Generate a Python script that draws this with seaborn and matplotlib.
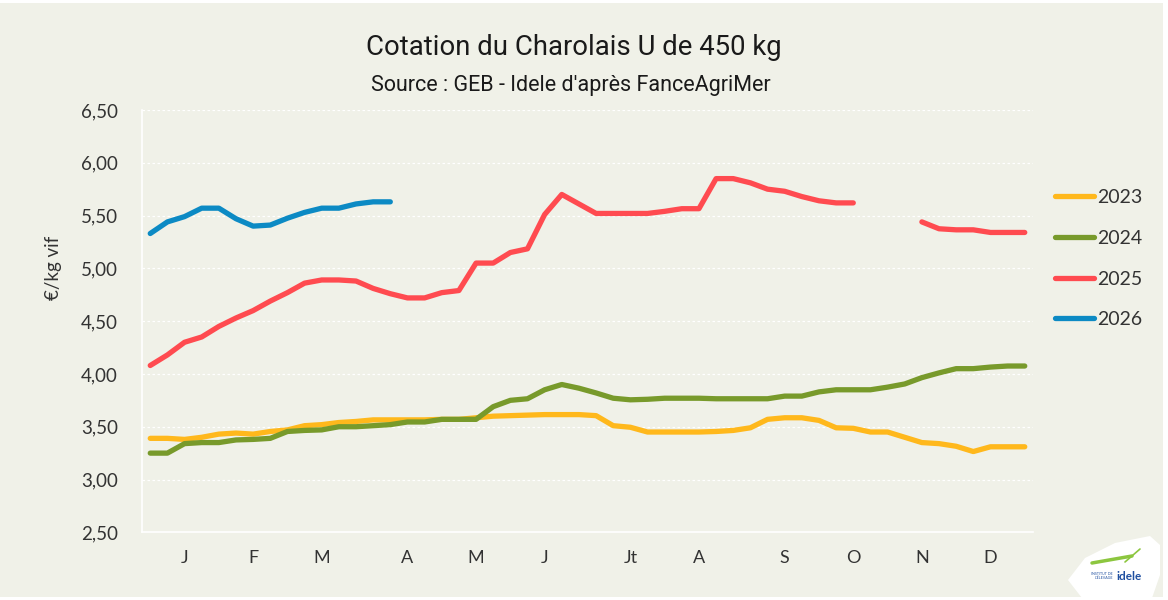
import numpy as np
import pandas as pd
import matplotlib.pyplot as plt
import matplotlib.patches as mpatches
import seaborn as sns

# weekly quotations, €/kg vif (week 0..51)
weeks = list(range(52))
p2023 = [3.39, 3.39, 3.38, 3.40, 3.43, 3.44, 3.43, 3.455, 3.47, 3.51,
         3.52, 3.54, 3.55, 3.565, 3.565, 3.565, 3.565, 3.57, 3.57, 3.585,
         3.60, 3.605, 3.61, 3.615, 3.615, 3.615, 3.605, 3.51, 3.495, 3.45,
         3.45, 3.45, 3.45, 3.455, 3.465, 3.49, 3.57, 3.585, 3.585, 3.56,
         3.49, 3.485, 3.45, 3.45, 3.40, 3.35, 3.34, 3.315, 3.265, 3.31,
         3.31, 3.31]
p2024 = [3.25, 3.25, 3.34, 3.35, 3.35, 3.375, 3.38, 3.39, 3.455, 3.465,
         3.47, 3.50, 3.50, 3.51, 3.52, 3.545, 3.545, 3.57, 3.57, 3.57,
         3.69, 3.75, 3.765, 3.85, 3.90, 3.865, 3.82, 3.77, 3.755, 3.76,
         3.77, 3.77, 3.77, 3.765, 3.765, 3.765, 3.765, 3.79, 3.79, 3.83,
         3.85, 3.85, 3.85, 3.875, 3.905, 3.965, 4.01, 4.05, 4.05, 4.065,
         4.075, 4.075]
p2025 = [4.08, 4.18, 4.30, 4.35, 4.45, 4.53, 4.60, 4.69, 4.77, 4.86,
         4.89, 4.89, 4.88, 4.81, 4.76, 4.72, 4.72, 4.77, 4.79, 5.05,
         5.05, 5.15, 5.185, 5.51, 5.70, 5.61, 5.52, 5.52, 5.52, 5.52,
         5.54, 5.565, 5.565, 5.85, 5.85, 5.81, 5.75, 5.73, 5.68, 5.64,
         5.62, 5.62, np.nan, np.nan, np.nan, 5.44, 5.375, 5.365, 5.365, 5.34,
         5.34, 5.34]
p2026 = [5.33, 5.44, 5.49, 5.57, 5.57, 5.47, 5.40, 5.41, 5.475, 5.53,
         5.57, 5.57, 5.61, 5.63, 5.63]

years = ['2023', '2024', '2025', '2026']
colors = ['#FFB81C', '#789A2B', '#FF4B50', '#0C8AC4']
month_pos = [2, 6, 10, 15, 19, 23, 28, 32, 37, 41, 45, 49]
month_labels = ['J', 'F', 'M', 'A', 'M', 'J', 'Jt', 'A', 'S', 'O', 'N', 'D']
y_ticks = [2.5, 3.0, 3.5, 4.0, 4.5, 5.0, 5.5, 6.0, 6.5]

bg = '#F0F1E8'
txt = '#333333'

# long table, with a segment id so gaps stay gaps
rows = []
for year, vals in zip(years, [p2023, p2024, p2025, p2026]):
    seg = 0
    for w, v in zip(weeks, vals):
        if np.isnan(v):
            seg += 1
            continue
        rows.append({'week': w, 'prix': v, 'annee': year, 'seg': f'{year}-{seg}'})
df = pd.DataFrame(rows)

sns.set_style('white')
plt.rcParams['font.family'] = ['Lato', 'DejaVu Sans']

fig = plt.figure(figsize=(11.68, 6), dpi=100, facecolor='white')
fig.patches.append(mpatches.Rectangle((0, 0.005), 0.9955, 0.99, transform=fig.transFigure,
                                      facecolor=bg, edgecolor='none', zorder=-10))
ax = fig.add_axes([0.1213, 0.1128, 0.7634, 0.7039])
ax.set_facecolor(bg)

sns.lineplot(data=df, x='week', y='prix', hue='annee', units='seg', estimator=None,
             palette=dict(zip(years, colors)), linewidth=3.8, ax=ax, sort=True)
for ln in ax.get_lines():
    ln.set_solid_capstyle('round')
    ln.set_solid_joinstyle('round')

ax.set_xlim(-0.5, 51.5)
ax.set_ylim(2.5, 6.5)
ax.set_yticks(y_ticks)
ax.set_yticklabels([f'{v:.2f}'.replace('.', ',') for v in y_ticks], fontsize=13.5, color=txt)
ax.set_xticks(month_pos)
ax.set_xticklabels(month_labels, fontsize=13, color=txt)
ax.set_xticks(np.arange(-0.5, 52, 1), minor=True)
ax.tick_params(axis='x', which='major', length=0, pad=13)
ax.tick_params(axis='x', which='minor', length=8, width=1, color='white')
ax.tick_params(axis='y', length=0, pad=17)
ax.grid(axis='y', color='white', linestyle=(0, (2, 2)), linewidth=0.9)
ax.set_axisbelow(True)
for side in ['top', 'right']:
    ax.spines[side].set_visible(False)
for side in ['left', 'bottom']:
    ax.spines[side].set_color('white')
    ax.spines[side].set_linewidth(1.2)
ax.set_xlabel('')
ax.set_ylabel('€/kg vif', fontsize=13.5, color=txt)
ax.yaxis.set_label_coords(-0.0894, 0.626)

leg = ax.legend(loc='center left', bbox_to_anchor=(1.005, 0.648), frameon=False,
                fontsize=14, handlelength=2.0, handletextpad=0.15, labelspacing=1.22,
                labelcolor=txt)
for h in leg.get_lines():
    h.set_linewidth(3.8)
    h.set_solid_capstyle('round')

fig.text(0.4915, 0.921, 'Cotation du Charolais U de 450 kg', ha='center', va='center',
         fontsize=19.8, color='#1a1a1a', family=['Roboto', 'DejaVu Sans'])
fig.text(0.4885, 0.858, "Source : GEB - Idele d'après FanceAgriMer", ha='center', va='center',
         fontsize=15.5, color='#1a1a1a', family=['Roboto', 'DejaVu Sans'])

# logo blob, bottom right
verts = np.array([(1082, 598), (1068, 580), (1085, 558), (1115, 543), (1150, 536),
                  (1160, 545), (1160, 575), (1152, 598)], dtype=float)
verts[:, 0] /= 1168
verts[:, 1] = 1 - verts[:, 1] / 600
fig.patches.append(mpatches.Polygon(verts, closed=True, transform=fig.transFigure,
                                    facecolor='white', edgecolor='none', zorder=5))
fig.add_artist(plt.Line2D([1092 / 1168, 1132 / 1168], [1 - 563 / 600, 1 - 556 / 600],
                          color='#8CC63F', linewidth=2.5, transform=fig.transFigure, zorder=6))
fig.add_artist(plt.Line2D([1125 / 1168, 1140 / 1168], [1 - 562 / 600, 1 - 549 / 600],
                          color='#8CC63F', linewidth=1.2, transform=fig.transFigure, zorder=6))
fig.text(1129 / 1168, 1 - 576 / 600, 'idele', fontsize=8.5, fontweight='bold', color='#1F4FA0',
         ha='center', va='center', zorder=6)
fig.text(1113 / 1168, 1 - 576 / 600, "INSTITUT DE\nL'ÉLEVAGE", fontsize=2.6, color='#1F4FA0',
         ha='right', va='center', zorder=6, linespacing=1.0)

fig.savefig('out.png', dpi=100, facecolor=fig.get_facecolor())
